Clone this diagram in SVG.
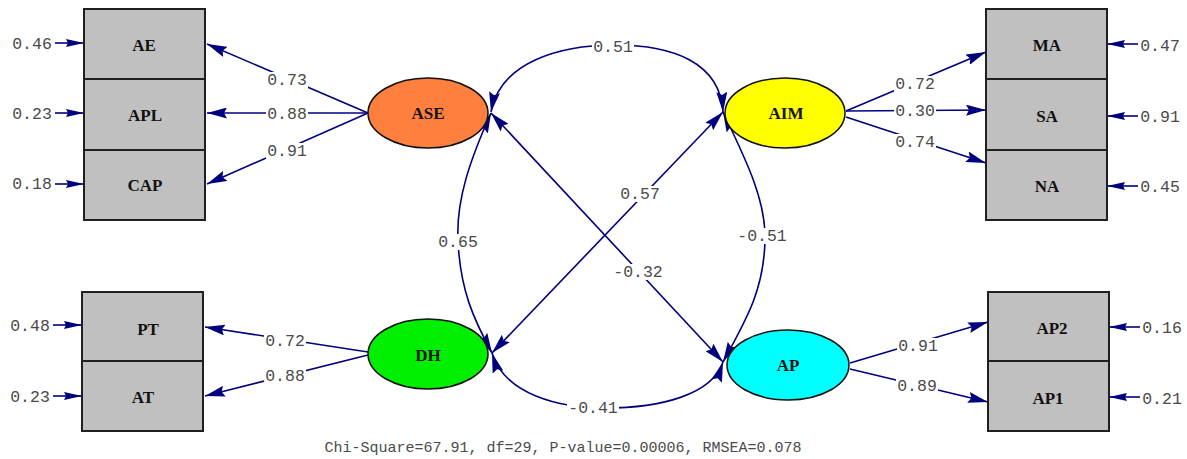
<svg xmlns="http://www.w3.org/2000/svg" width="1187" height="459" viewBox="0 0 1187 459">
<defs>
<marker id="ah" viewBox="0 0 20 11" refX="20" refY="5.5" markerWidth="20" markerHeight="11" markerUnits="userSpaceOnUse" orient="auto-start-reverse">
<path d="M0,0 L20,5.5 L0,11 L3,5.5 z" fill="#00007f"/>
</marker>
<marker id="eh" viewBox="0 0 18 8" refX="18" refY="4" markerWidth="18" markerHeight="8" markerUnits="userSpaceOnUse" orient="auto">
<path d="M0,0 L18,4 L0,8 L2,4 z" fill="#00007f"/>
</marker>
<style>
.box{fill:#c0c0c0;stroke:#202020;stroke-width:2}
.lat{stroke:#101010;stroke-width:1.5}
.bl{font-family:"Liberation Serif","Times New Roman",serif;font-weight:bold;font-size:17px;fill:#111;text-anchor:middle;dominant-baseline:central}
.v{font-family:"Liberation Mono","Courier New",monospace;font-size:16.5px;fill:#4a4a4a;text-anchor:middle;dominant-baseline:central}
.bg{fill:#fff}
.ln{fill:none;stroke:#00007f;stroke-width:1.6}
.ld{marker-end:url(#ah)}
.cv{marker-start:url(#ah);marker-end:url(#ah)}
.er{marker-end:url(#eh)}
</style>
</defs>

<g id="connectors">
<!-- error arrows -->
<path class="ln er" d="M55,43 L84,43"/>
<path class="ln er" d="M55,113 L84,113"/>
<path class="ln er" d="M55,184 L84,184"/>
<path class="ln er" d="M53,325 L82,325"/>
<path class="ln er" d="M53,396 L82,396"/>
<path class="ln er" d="M1138,44 L1107,44"/>
<path class="ln er" d="M1138,116 L1107,116"/>
<path class="ln er" d="M1138,186 L1107,186"/>
<path class="ln er" d="M1140,327 L1109,327"/>
<path class="ln er" d="M1140,397 L1109,397"/>
<!-- loadings -->
<path class="ln ld" d="M368,113 L207,44"/>
<path class="ln ld" d="M368,113 L207,113"/>
<path class="ln ld" d="M368,113 L207,184"/>
<path class="ln ld" d="M846,111 L986,52"/>
<path class="ln ld" d="M846,111 L986,110"/>
<path class="ln ld" d="M846,117 L986,163"/>
<path class="ln ld" d="M368,352 L205,327"/>
<path class="ln ld" d="M368,355 L205,396"/>
<path class="ln ld" d="M850,363 L988,322"/>
<path class="ln ld" d="M850,369 L988,402"/>
<!-- covariances -->
<path class="ln cv" d="M491,112 C500,62 560,45 615,45 C672,45 720,62 723,112"/>
<path class="ln cv" d="M723,112 L492,353"/>
<path class="ln cv" d="M491,113 L723,362"/>
<path class="ln cv" d="M491,113 C470,160 456,200 458,240 C460,290 474,320 492,353"/>
<path class="ln cv" d="M723,112 C746,160 766,200 765,240 C764,290 746,320 723,362"/>
<path class="ln cv" d="M492,353 C505,395 560,408 605,408 C660,408 712,395 723,362"/>
<!-- label backgrounds -->
<rect class="bg" x="266" y="72" width="42" height="16"/>
<rect class="bg" x="266" y="106" width="42" height="16"/>
<rect class="bg" x="266" y="143" width="42" height="16"/>
<rect class="bg" x="894" y="76" width="42" height="16"/>
<rect class="bg" x="894" y="103" width="42" height="16"/>
<rect class="bg" x="894" y="134" width="42" height="16"/>
<rect class="bg" x="264" y="333" width="42" height="16"/>
<rect class="bg" x="264" y="368" width="42" height="16"/>
<rect class="bg" x="897" y="338" width="42" height="16"/>
<rect class="bg" x="896" y="378" width="42" height="16"/>
<rect class="bg" x="592" y="39" width="42" height="16"/>
<rect class="bg" x="619" y="186" width="42" height="16"/>
<rect class="bg" x="437" y="234" width="42" height="16"/>
<rect class="bg" x="612" y="264" width="52" height="16"/>
<rect class="bg" x="736" y="228" width="52" height="16"/>
<rect class="bg" x="567" y="400" width="52" height="16"/>
<!-- labels -->
<text class="v" x="287" y="80">0.73</text>
<text class="v" x="287" y="114">0.88</text>
<text class="v" x="287" y="151">0.91</text>
<text class="v" x="915" y="84">0.72</text>
<text class="v" x="915" y="111">0.30</text>
<text class="v" x="915" y="142">0.74</text>
<text class="v" x="285" y="341">0.72</text>
<text class="v" x="285" y="376">0.88</text>
<text class="v" x="918" y="346">0.91</text>
<text class="v" x="917" y="386">0.89</text>
<text class="v" x="613" y="47">0.51</text>
<text class="v" x="640" y="194">0.57</text>
<text class="v" x="458" y="242">0.65</text>
<text class="v" x="638" y="272">-0.32</text>
<text class="v" x="762" y="236">-0.51</text>
<text class="v" x="593" y="408">-0.41</text>
<text class="v" x="32" y="44">0.46</text>
<text class="v" x="32" y="114">0.23</text>
<text class="v" x="32" y="184">0.18</text>
<text class="v" x="30" y="326">0.48</text>
<text class="v" x="30" y="397">0.23</text>
<text class="v" x="1160" y="46">0.47</text>
<text class="v" x="1160" y="117">0.91</text>
<text class="v" x="1160" y="187">0.45</text>
<text class="v" x="1162" y="328">0.16</text>
<text class="v" x="1162" y="399">0.21</text>
</g>

<g id="AE"><rect class="box" x="84" y="9" width="121" height="70"/><text class="bl" x="144" y="45">AE</text></g>
<g id="APL"><rect class="box" x="84" y="79" width="121" height="71"/><text class="bl" x="145" y="115">APL</text></g>
<g id="CAP"><rect class="box" x="84" y="150" width="121" height="70"/><text class="bl" x="145" y="185">CAP</text></g>
<g id="PT"><rect class="box" x="82" y="292" width="121" height="69"/><text class="bl" x="148" y="329">PT</text></g>
<g id="AT"><rect class="box" x="82" y="361" width="121" height="70"/><text class="bl" x="143" y="397">AT</text></g>
<g id="MA"><rect class="box" x="986" y="9" width="121" height="70"/><text class="bl" x="1047" y="45">MA</text></g>
<g id="SA"><rect class="box" x="986" y="79" width="121" height="71"/><text class="bl" x="1047" y="116">SA</text></g>
<g id="NA"><rect class="box" x="986" y="150" width="121" height="70"/><text class="bl" x="1047" y="186">NA</text></g>
<g id="AP2"><rect class="box" x="988" y="292" width="121" height="69"/><text class="bl" x="1052" y="328">AP2</text></g>
<g id="AP1"><rect class="box" x="988" y="361" width="121" height="70"/><text class="bl" x="1048" y="398">AP1</text></g>

<g id="ASE"><ellipse class="lat" cx="428" cy="113" rx="60" ry="35" fill="#ff7f3f"/><text class="bl" x="428" y="113">ASE</text></g>
<g id="AIM"><ellipse class="lat" cx="785" cy="113" rx="60" ry="35" fill="#ffff00"/><text class="bl" x="786" y="113">AIM</text></g>
<g id="DH"><ellipse class="lat" cx="428" cy="354" rx="60" ry="35" fill="#00ee00"/><text class="bl" x="428" y="355">DH</text></g>
<g id="AP"><ellipse class="lat" cx="788" cy="365" rx="61" ry="35" fill="#00ffff"/><text class="bl" x="788" y="365">AP</text></g>

<text x="563" y="448" style="font-family:'Liberation Mono','Courier New',monospace;font-size:15px;fill:#4a4a4a;text-anchor:middle;dominant-baseline:central">Chi-Square=67.91, df=29, P-value=0.00006, RMSEA=0.078</text>
</svg>
